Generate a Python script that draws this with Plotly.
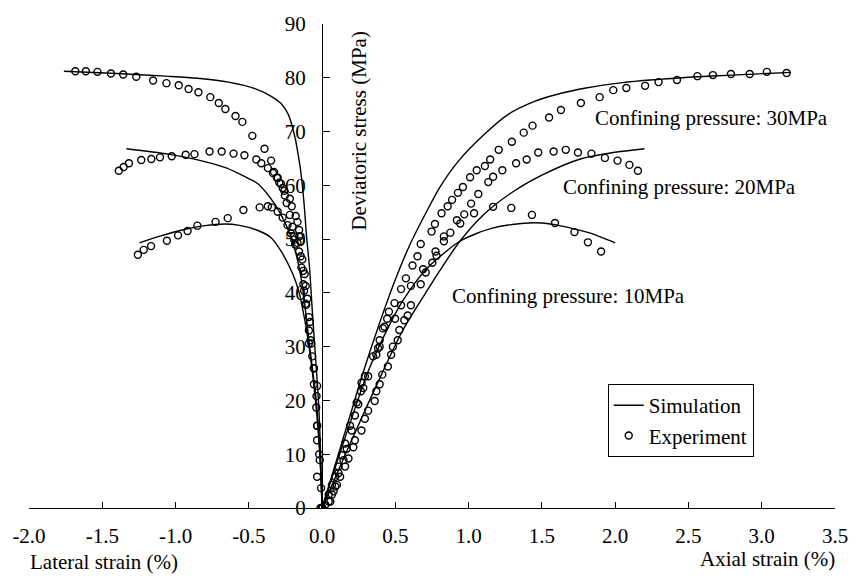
import plotly.graph_objects as go

# ---------------- data ----------------
# Simulation curves (strain %, deviatoric stress MPa)
sim30_axial_x = [0, 0.1, 0.2, 0.28, 0.4, 0.5, 0.6, 0.707, 0.8, 0.93, 1.1, 1.27, 1.45, 1.6, 1.8, 2.05, 2.3, 2.5, 2.8, 3.2]
sim30_axial_y = [0, 9, 18, 25.2, 35, 42.5, 49, 54.8, 59.5, 64.5, 69.3, 73.2, 75.6, 76.9, 78.1, 79.1, 79.7, 80.1, 80.5, 81.0]
sim20_axial_x = [0, 0.2, 0.415, 0.55, 0.667, 0.707, 0.8, 0.94, 1.1, 1.313, 1.5, 1.762, 1.987, 2.2]
sim20_axial_y = [0, 12.5, 25.4, 33, 38.3, 40, 44, 49.6, 54.5, 59.0, 61.9, 64.9, 66.1, 66.8]
sim10_axial_x = [0, 0.15, 0.314, 0.45, 0.55, 0.707, 0.85, 0.94, 1.05, 1.156, 1.358, 1.5, 1.605, 1.72, 1.83, 2.0]
sim10_axial_y = [0, 12.5, 25.4, 33.5, 38.5, 44.3, 47.8, 49.6, 51.0, 52.0, 52.9, 53.0, 52.6, 51.9, 51.1, 49.3]

sim30_lat_x = [0, -0.01, -0.025, -0.05, -0.07, -0.085, -0.106, -0.123, -0.146, -0.165, -0.184, -0.229, -0.28, -0.35, -0.45, -0.64, -0.85, -1.066, -1.4, -1.762]
sim30_lat_y = [0, 10, 20, 30, 38, 44.4, 50.5, 56.6, 62.7, 66, 68.8, 73.1, 75.2, 76.6, 77.9, 79.2, 79.9, 80.3, 80.8, 81.2]
sim20_lat_x = [0, -0.015, -0.04, -0.088, -0.123, -0.146, -0.18, -0.22, -0.27, -0.325, -0.438, -0.505, -0.65, -0.842, -1.05, -1.335]
sim20_lat_y = [0, 10, 20, 30.7, 38.9, 43.2, 47.5, 51, 54, 56.6, 60.3, 61.3, 63.2, 64.7, 65.8, 66.8]
sim10_lat_x = [0, -0.015, -0.045, -0.09, -0.112, -0.157, -0.2, -0.281, -0.35, -0.438, -0.572, -0.662, -0.8, -0.954, -1.1, -1.246]
sim10_lat_y = [0, 10, 20, 30.3, 34, 40.1, 43.5, 47.8, 50.3, 51.6, 52.6, 52.8, 52.5, 51.7, 50.6, 49.3]

# Experimental points
exp30_axial_x = [0.0, 0.045, 0.067, 0.09, 0.112, 0.135, 0.157, 0.191, 0.224, 0.236, 0.265, 0.269, 0.292, 0.348, 0.382, 0.393, 0.415, 0.444, 0.456, 0.494, 0.539, 0.572, 0.617, 0.651, 0.673, 0.747, 0.77, 0.815, 0.857, 0.887, 0.927, 0.961, 1.01, 1.055, 1.111, 1.147, 1.205, 1.295, 1.376, 1.436, 1.549, 1.63, 1.766, 1.894, 1.987, 2.076, 2.204, 2.296, 2.422, 2.561, 2.667, 2.79, 2.918, 3.035, 3.17]
exp30_axial_y = [0.0, 2.5, 4.3, 5.8, 7.7, 9.8, 12.0, 15.3, 17.2, 19.6, 21.7, 23.3, 24.5, 28.2, 29.7, 31.2, 33.4, 35.2, 36.5, 38.1, 40.7, 42.7, 45.1, 46.8, 49.1, 51.4, 52.8, 54.8, 56.1, 57.3, 58.6, 59.7, 61.5, 62.8, 63.6, 64.8, 66.6, 68.1, 69.8, 71.1, 72.6, 74.0, 75.3, 76.4, 77.7, 78.1, 78.5, 79.2, 79.6, 80.3, 80.5, 80.7, 80.7, 81.1, 80.9]
exp20_axial_x = [0.0, 0.045, 0.067, 0.09, 0.112, 0.146, 0.168, 0.202, 0.247, 0.281, 0.314, 0.37, 0.393, 0.426, 0.498, 0.539, 0.606, 0.689, 0.752, 0.774, 0.831, 0.875, 0.92, 0.97, 1.017, 1.066, 1.134, 1.167, 1.23, 1.324, 1.396, 1.475, 1.58, 1.663, 1.746, 1.838, 1.93, 2.016, 2.097, 2.155]
exp20_axial_y = [0.0, 1.2, 2.5, 4.0, 6.5, 8.9, 11.0, 14.4, 19.3, 22.3, 24.5, 28.5, 30.0, 33.7, 35.2, 37.7, 41.3, 44.4, 45.6, 47.7, 50.5, 51.2, 53.5, 54.6, 56.6, 58.4, 60.6, 61.6, 62.8, 64.1, 64.8, 66.1, 66.3, 66.6, 66.1, 65.9, 65.1, 64.6, 63.8, 62.7]
exp10_axial_x = [0.0, 0.022, 0.056, 0.079, 0.101, 0.123, 0.157, 0.18, 0.213, 0.224, 0.269, 0.292, 0.314, 0.359, 0.37, 0.393, 0.411, 0.449, 0.471, 0.483, 0.516, 0.527, 0.561, 0.584, 0.606, 0.673, 0.707, 0.781, 0.831, 0.943, 1.037, 1.167, 1.291, 1.432, 1.589, 1.722, 1.814, 1.904]
exp10_axial_y = [0.0, 0.6, 1.2, 3.1, 4.3, 5.8, 7.7, 9.2, 11.3, 12.6, 14.4, 16.6, 18.1, 19.9, 21.7, 23.0, 24.8, 26.3, 28.5, 30.0, 31.2, 33.1, 34.9, 35.8, 37.7, 41.6, 43.8, 46.9, 49.6, 52.9, 54.8, 56.0, 55.8, 54.5, 53.0, 51.3, 49.4, 47.7]

exp30_lat_x = [-1.684, -1.612, -1.533, -1.441, -1.357, -1.268, -1.153, -1.062, -0.978, -0.911, -0.844, -0.763, -0.705, -0.66, -0.591, -0.544, -0.476, -0.393, -0.348, -0.328, -0.308, -0.292, -0.269, -0.22, -0.207, -0.18, -0.168, -0.157, -0.146, -0.135, -0.128, -0.112, -0.101, -0.083, -0.074, -0.056, -0.034, -0.034, -0.016, -0.007, 0.0]
exp30_lat_y = [81.2, 81.2, 81.1, 80.8, 80.6, 80.2, 79.5, 79.0, 78.6, 77.9, 77.3, 76.4, 75.3, 74.2, 72.9, 71.8, 69.2, 66.8, 64.6, 62.5, 61.4, 60.5, 59.5, 57.5, 56.1, 54.3, 53.2, 51.7, 49.6, 46.2, 44.1, 41.3, 38.9, 34.6, 30.6, 26.0, 22.7, 15.3, 8.9, 3.7, 0.0]
exp20_lat_x = [-1.387, -1.354, -1.318, -1.234, -1.165, -1.106, -1.026, -0.931, -0.871, -0.768, -0.685, -0.604, -0.53, -0.449, -0.415, -0.37, -0.335, -0.303, -0.281, -0.258, -0.254, -0.242, -0.22, -0.202, -0.19, -0.168, -0.157, -0.141, -0.123, -0.108, -0.09, -0.079, -0.067, -0.056, -0.038, -0.034, -0.034, 0.0]
exp20_lat_y = [62.7, 63.4, 64.1, 64.7, 64.9, 65.2, 65.4, 65.7, 65.8, 66.3, 66.3, 65.9, 65.6, 64.8, 64.1, 63.2, 62.3, 61.4, 60.3, 59.0, 58.1, 56.7, 54.5, 52.3, 50.5, 49.3, 47.7, 44.7, 40.4, 37.8, 35.5, 31.2, 28.2, 23.0, 20.8, 12.6, 5.8, 0.0]
exp10_lat_x = [-1.257, -1.217, -1.167, -1.059, -0.983, -0.918, -0.851, -0.727, -0.644, -0.537, -0.426, -0.37, -0.343, -0.303, -0.269, -0.236, -0.213, -0.19, -0.184, -0.157, -0.146, -0.119, -0.128, -0.112, -0.09, -0.09, -0.056, -0.04, -0.034, -0.02, -0.011]
exp10_lat_y = [47.1, 48.0, 48.7, 49.7, 50.7, 51.5, 52.5, 53.2, 53.9, 55.4, 55.9, 56.1, 55.9, 55.1, 54.0, 52.6, 51.1, 49.9, 49.0, 50.5, 46.8, 43.5, 41.6, 38.0, 33.0, 30.6, 26.0, 18.7, 15.3, 10.0, 0.0]

x_tick_vals = [-2.0, -1.5, -1.0, -0.5, 0.0, 0.5, 1.0, 1.5, 2.0, 2.5, 3.0, 3.5]
x_tick_text = ["-2.0", "-1.5", "-1.0", "-0.5", "0.0", "0.5", "1.0", "1.5", "2.0", "2.5", "3.0", "3.5"]
y_tick_vals = [0, 10, 20, 30, 40, 50, 60, 70, 80, 90]

pressure_labels = ["Confining pressure: 30MPa", "Confining pressure: 20MPa", "Confining pressure: 10MPa"]
pressure_label_x = [1.852, 1.63, 0.875]
pressure_label_y = [72.6, 59.7, 39.5]

# ---------------- figure ----------------
FONT = "Liberation Serif, Times New Roman, serif"
FS = 21
fig = go.Figure()

sims = [(sim30_axial_x, sim30_axial_y), (sim20_axial_x, sim20_axial_y), (sim10_axial_x, sim10_axial_y),
        (sim30_lat_x, sim30_lat_y), (sim20_lat_x, sim20_lat_y), (sim10_lat_x, sim10_lat_y)]
for i, (sx, sy) in enumerate(sims):
    fig.add_trace(go.Scatter(x=sx, y=sy, mode="lines", name="Simulation",
                             line=dict(color="black", width=1.4, shape="spline", smoothing=0.8),
                             legendgroup="sim", showlegend=(i == 0)))

exps = [(exp30_axial_x, exp30_axial_y), (exp20_axial_x, exp20_axial_y), (exp10_axial_x, exp10_axial_y),
        (exp30_lat_x, exp30_lat_y), (exp20_lat_x, exp20_lat_y), (exp10_lat_x, exp10_lat_y)]
for i, (ex, ey) in enumerate(exps):
    fig.add_trace(go.Scatter(x=ex, y=ey, mode="markers", name="Experiment",
                             marker=dict(symbol="circle-open", size=7, color="black",
                                         line=dict(width=1.4, color="black")),
                             legendgroup="exp", showlegend=(i == 0)))

for txt, lx, ly in zip(pressure_labels, pressure_label_x, pressure_label_y):
    fig.add_annotation(x=lx, y=ly, xref="x", yref="y", text=txt, showarrow=False,
                       xanchor="left", yanchor="middle", font=dict(size=FS, color="black", family=FONT))

fig.add_annotation(x=0.252, y=70, xref="x", yref="y", text="Deviatoric stress (MPa)", textangle=-90,
                   showarrow=False, xanchor="center", yanchor="middle",
                   font=dict(size=FS, color="black", family=FONT))
fig.add_annotation(x=-0.001, y=-0.111, xref="paper", yref="paper", text="Lateral strain (%)",
                   showarrow=False, xanchor="left", yanchor="middle",
                   font=dict(size=FS, color="black", family=FONT))
fig.add_annotation(x=1.003, y=-0.105, xref="paper", yref="paper", text="Axial strain (%)",
                   showarrow=False, xanchor="right", yanchor="middle",
                   font=dict(size=FS, color="black", family=FONT))

x_min, x_max = -2.0, 3.5
fig.update_layout(
    width=860, height=579,
    margin=dict(l=28, r=15, t=18, b=71),
    paper_bgcolor="white", plot_bgcolor="white",
    font=dict(family=FONT, size=FS, color="black"),
    showlegend=True,
    legend=dict(x=0.718, y=0.256, xanchor="left", yanchor="top",
                bordercolor="black", borderwidth=1, bgcolor="white",
                font=dict(size=FS, family=FONT, color="black"),
                tracegroupgap=0, itemwidth=30),
    xaxis=dict(range=[x_min, x_max], tickvals=x_tick_vals, ticktext=x_tick_text,
               showgrid=False, zeroline=False, showline=True, linecolor="black", linewidth=1.3,
               ticks="inside", ticklen=6, tickcolor="black", tickwidth=1.3,
               ticklabelstandoff=9, tickfont=dict(size=FS, family=FONT)),
    yaxis=dict(range=[0, 90], tickvals=y_tick_vals,
               showgrid=False, zeroline=False, showline=True, linecolor="black", linewidth=1.3,
               ticks="inside", ticklen=7, tickcolor="black", tickwidth=1.3,
               anchor="free", position=(0 - x_min) / (x_max - x_min),
               ticklabelstandoff=12, tickfont=dict(size=FS, family=FONT)),
)

fig.write_html("out.html")
